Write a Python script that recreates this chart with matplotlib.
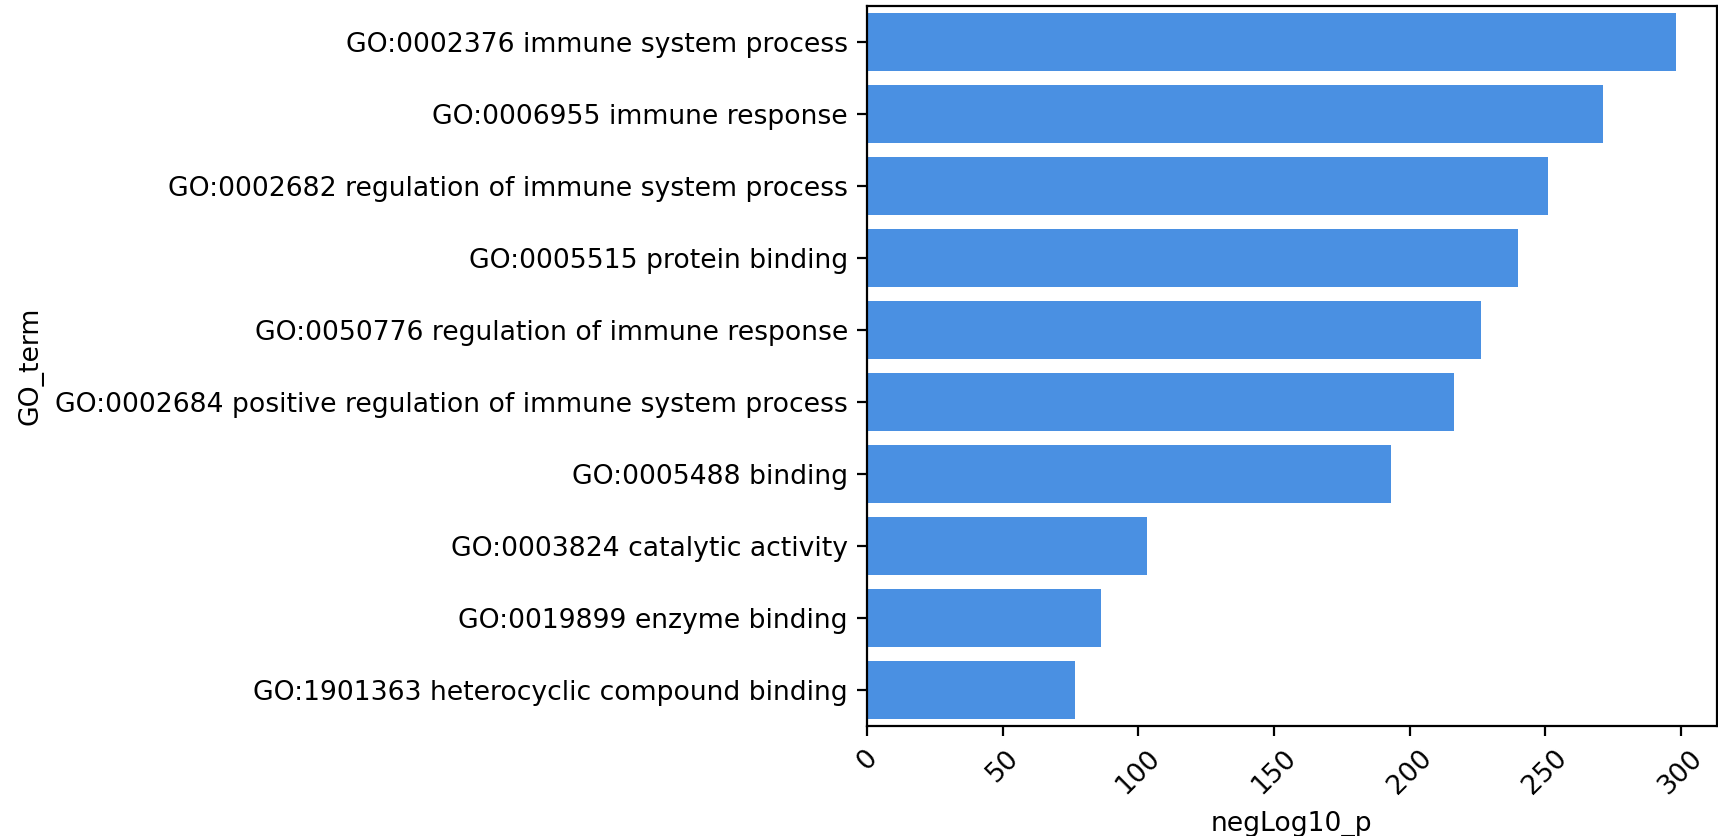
import matplotlib
matplotlib.use('Agg')
import matplotlib.pyplot as plt

#GO terms, top to bottom
go_terms = ['GO:0002376 immune system process',
            'GO:0006955 immune response',
            'GO:0002682 regulation of immune system process',
            'GO:0005515 protein binding',
            'GO:0050776 regulation of immune response',
            'GO:0002684 positive regulation of immune system process',
            'GO:0005488 binding',
            'GO:0003824 catalytic activity',
            'GO:0019899 enzyme binding',
            'GO:1901363 heterocyclic compound binding']

#-log10(p) values
neg_log10_p = [298.3, 271.4, 251.1, 240.1, 226.4, 216.5, 193.3, 103.0, 86.1, 76.5]

#slightly smaller text than default to match the reference
plt.rcParams['font.size'] = 9.6

#set up figure (1718 x 836 px)
fig = plt.figure(figsize=(8.59, 4.18), dpi=200)
ax = fig.add_axes([0.5048, 0.1319, 0.4944, 0.8612])

#horizontal bars
ypos = list(range(len(go_terms)))
ax.barh(ypos, neg_log10_p, height=0.8, color='#4A90E2')

#axes, ticks & labels
ax.set_yticks(ypos)
ax.set_yticklabels(go_terms)
ax.set_ylim(len(go_terms) - 0.5, -0.5)
ax.set_xlim(left=0)
ax.set_xticks([0, 50, 100, 150, 200, 250, 300])
plt.setp(ax.get_xticklabels(), rotation=45)
ax.set_xlabel('negLog10_p')
ax.set_ylabel('GO_term')

fig.savefig('out.png', dpi=200)
